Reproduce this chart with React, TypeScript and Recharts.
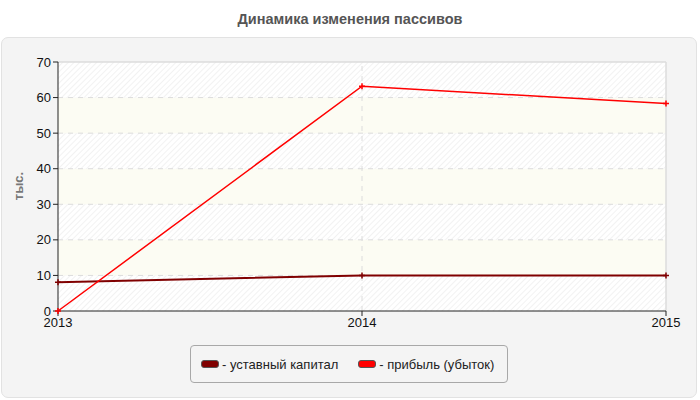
import React from 'react';
import {
  LineChart,
  Line,
  XAxis,
  YAxis,
  ReferenceArea,
  ReferenceLine,
} from 'recharts';

const years = ['2013', '2014', '2015'];
const capital = [8.1, 10, 10];
const profit = [0, 63.2, 58.3];
const yTicks = [0, 10, 20, 30, 40, 50, 60, 70];
const seriesNames = ['уставный капитал', 'прибыль (убыток)'];
const seriesColors = ['#800000', '#ff0000'];

const data = years.map((y, i) => ({
  year: y,
  capital: capital[i],
  profit: profit[i],
}));

const FONT = 'Arial, "Liberation Sans", sans-serif';

function CrossDot(props: { cx?: number; cy?: number; stroke?: string }) {
  const { cx, cy, stroke } = props;
  if (cx == null || cy == null) return null;
  return (
    <path
      d={`M${cx - 3},${cy}H${cx + 3}M${cx},${cy - 3}V${cy + 3}`}
      stroke={stroke}
      strokeWidth={1.5}
      fill="none"
    />
  );
}

function LegendBox() {
  return (
    <div
      style={{
        position: 'absolute',
        left: 190,
        top: 345,
        width: 318,
        height: 38,
        boxSizing: 'border-box',
        border: '1px solid #a8a8a8',
        borderRadius: 4,
        display: 'flex',
        alignItems: 'center',
        paddingLeft: 10,
        fontFamily: FONT,
        fontSize: 13,
        color: '#222',
        whiteSpace: 'nowrap',
      }}
    >
      {seriesNames.map((name, i) => (
        <div
          key={name}
          style={{ display: 'flex', alignItems: 'center', marginRight: 20, flexShrink: 0 }}
        >
          <span
            style={{
              display: 'inline-block',
              width: 18,
              height: 8,
              borderRadius: 3,
              background: seriesColors[i],
              border: '1px solid #555',
              boxSizing: 'border-box',
              marginRight: 3,
            }}
          />
          <span>- {name}</span>
        </div>
      ))}
    </div>
  );
}

export default function App() {
  return (
    <div style={{ position: 'absolute', left: 0, top: 0, width: 700, height: 400, background: '#fff' }}>
      <div
        style={{
          position: 'absolute',
          left: 0,
          right: 0,
          top: 11,
          textAlign: 'center',
          fontFamily: FONT,
          fontWeight: 'bold',
          fontSize: 14.5,
          color: '#555',
        }}
      >
        Динамика изменения пассивов
      </div>
      <div
        style={{
          position: 'absolute',
          left: 1,
          top: 37,
          width: 696,
          height: 361,
          boxSizing: 'border-box',
          background: '#f4f4f4',
          border: '1px solid #e2e2e2',
          borderRadius: 7,
        }}
      />
      <div
        style={{
          position: 'absolute',
          left: 8,
          top: 186,
          transform: 'translate(-50%, -50%) rotate(-90deg)',
          transformOrigin: 'center',
          marginLeft: 10,
          fontFamily: FONT,
          fontWeight: 'bold',
          fontSize: 13,
          color: '#777',
        }}
      >
        тыс.
      </div>
      <LegendBox />
      <div style={{ position: 'absolute', left: 0, top: 0 }}>
        <LineChart
          width={700}
          height={400}
          data={data}
          margin={{ top: 62, right: 34, bottom: 59, left: 0 }}
        >
          <defs>
            <pattern id="hatch" width="4" height="4" patternUnits="userSpaceOnUse" patternTransform="rotate(45)">
              <rect width="4" height="4" fill="#ffffff" />
              <line x1="0" y1="0" x2="0" y2="4" stroke="#eeeeee" strokeWidth="1.5" />
            </pattern>
          </defs>
          {yTicks.slice(0, -1).map((t, i) => (
            <ReferenceArea
              key={`band-${t}`}
              y1={t}
              y2={yTicks[i + 1]}
              fill={i % 2 === 0 ? 'url(#hatch)' : '#fcfcf3'}
              fillOpacity={1}
              stroke="none"
              ifOverflow="hidden"
            />
          ))}
          {yTicks.slice(1, -1).map((t) => (
            <ReferenceLine key={`grid-${t}`} y={t} stroke="#dcdcdc" strokeDasharray="5 5" />
          ))}
          <ReferenceLine x="2014" stroke="#dcdcdc" strokeDasharray="5 5" />
          <ReferenceLine y={70} stroke="#dddddd" strokeWidth={1.5} />
          <ReferenceLine x="2015" stroke="#dddddd" strokeWidth={1.5} />
          <XAxis
            dataKey="year"
            padding={{ left: 0, right: 0 }}
            height={30}
            stroke="#222"
            tick={{ fill: '#111', fontSize: 13, fontFamily: FONT }}
            tickLine={{ stroke: '#222' }}
            tickSize={5}
            interval={0}
          />
          <YAxis
            width={58}
            domain={[0, 70]}
            ticks={yTicks}
            stroke="#222"
            tick={{ fill: '#111', fontSize: 13, fontFamily: FONT }}
            tickLine={{ stroke: '#222' }}
            tickSize={5}
            interval={0}
          />
          <Line
            dataKey="capital"
            name={seriesNames[0]}
            stroke={seriesColors[0]}
            strokeWidth={2}
            type="linear"
            dot={<CrossDot />}
            isAnimationActive={false}
          />
          <Line
            dataKey="profit"
            name={seriesNames[1]}
            stroke={seriesColors[1]}
            strokeWidth={1.5}
            type="linear"
            dot={<CrossDot />}
            isAnimationActive={false}
          />
        </LineChart>
      </div>
    </div>
  );
}
